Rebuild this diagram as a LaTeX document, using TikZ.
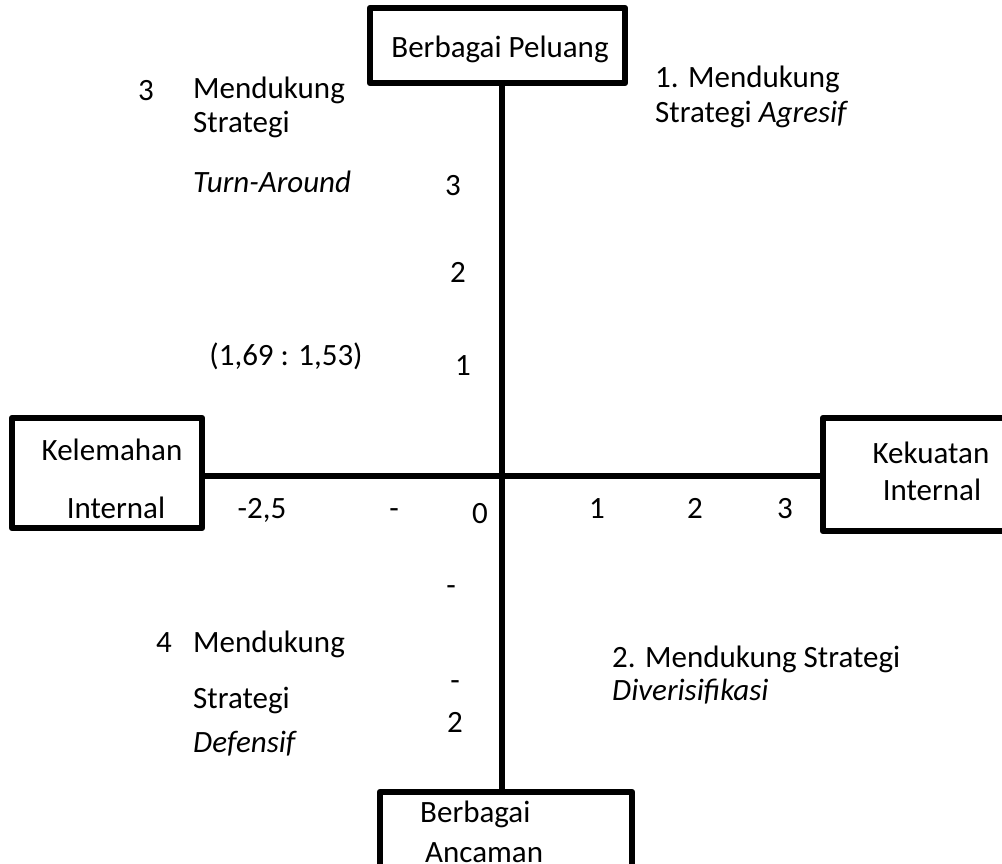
\documentclass[tikz,border=0pt]{standalone}
\usepackage{fontspec}
\setmainfont{Carlito}
\begin{document}
\begin{tikzpicture}[x=1pt,y=-1pt,
  box/.style={draw,line width=6.5pt,line join=round,fill=white,inner sep=0pt},
  txt/.style={anchor=base west,inner sep=0pt,font=\fontsize{31}{37}\selectfont},
  ctxt/.style={anchor=base,inner sep=0pt,font=\fontsize{31}{37}\selectfont},
  axis/.style={line width=6.5pt}]
\useasboundingbox (0,0) rectangle (1002,863);
\clip (0,0) rectangle (1002,863);
\coordinate (O) at (502,476);
% boxes
\node[box,minimum width=255pt,minimum height=75pt] (top) at (497.5,45.5) {};
\node[box,minimum width=190pt,minimum height=110pt] (left) at (107,473) {};
\node[box,minimum width=187pt,minimum height=113pt] (right) at (916.5,474.5) {};
\node[box,minimum width=252pt,minimum height=90pt] (bot) at (506,837) {};
% axes
\draw[axis] (O |- top.south) -- (O |- bot.north);
\draw[axis] (left.east |- O) -- (right.west |- O);
% box texts
\node[ctxt] (ttop) at (500,57) {Berbagai Peluang};
\node[ctxt] (tl1) at (112,460) {Kelemahan};
\node[ctxt] (tl2) at (116,518) {Internal};
\node[ctxt] (tr1) at (931,463) {Kekuatan};
\node[ctxt] (tr2) at (932,500) {Internal};
\node[txt] (tb1) at (420,822) {Berbagai};
\node[txt] (tb2) at (425,862) {Ancaman};
% horizontal axis labels
\node[ctxt] (hm25) at (262,518) {-2,5};
\node[ctxt] (hdash) at (394,518) {-};
\node[ctxt] (h0) at (480,523) {0};
\node[ctxt] (h1) at (597,518) {1};
\node[ctxt] (h2) at (695,518) {2};
\node[ctxt] (h3) at (785,518) {3};
% vertical axis labels
\node[ctxt] (v3) at (453,195) {3};
\node[ctxt] (v2) at (458,282) {2};
\node[ctxt] (v1) at (463,375) {1};
\node[ctxt] (vd1) at (451,595) {-};
\node[ctxt] (vd2) at (455,690) {-};
\node[ctxt] (vm2) at (455,732) {2};
\node[ctxt] (pt) at (286,365) {(1,69 : 1,53)};
% quadrant texts
\node[ctxt] (q3n) at (146,100) {3};
\node[txt] (q3a) at (193,98) {Mendukung};
\node[txt] (q3b) at (193,132) {Strategi};
\node[txt] (q3c) at (193,192) {\itshape Turn-Around};
\node[txt] (q1a) at (655,87) {1. Mendukung};
\node[txt] (q1b) at (655,122) {Strategi \itshape Agresif};
\node[ctxt] (q4n) at (164,652) {4};
\node[txt] (q4a) at (193,652) {Mendukung};
\node[txt] (q4b) at (193,708) {Strategi};
\node[txt] (q4c) at (193,752) {\itshape Defensif};
\node[txt] (q2a) at (612,667) {2. Mendukung Strategi};
\node[txt] (q2b) at (612,700) {\itshape Diverisifikasi};
\end{tikzpicture}
\end{document}
